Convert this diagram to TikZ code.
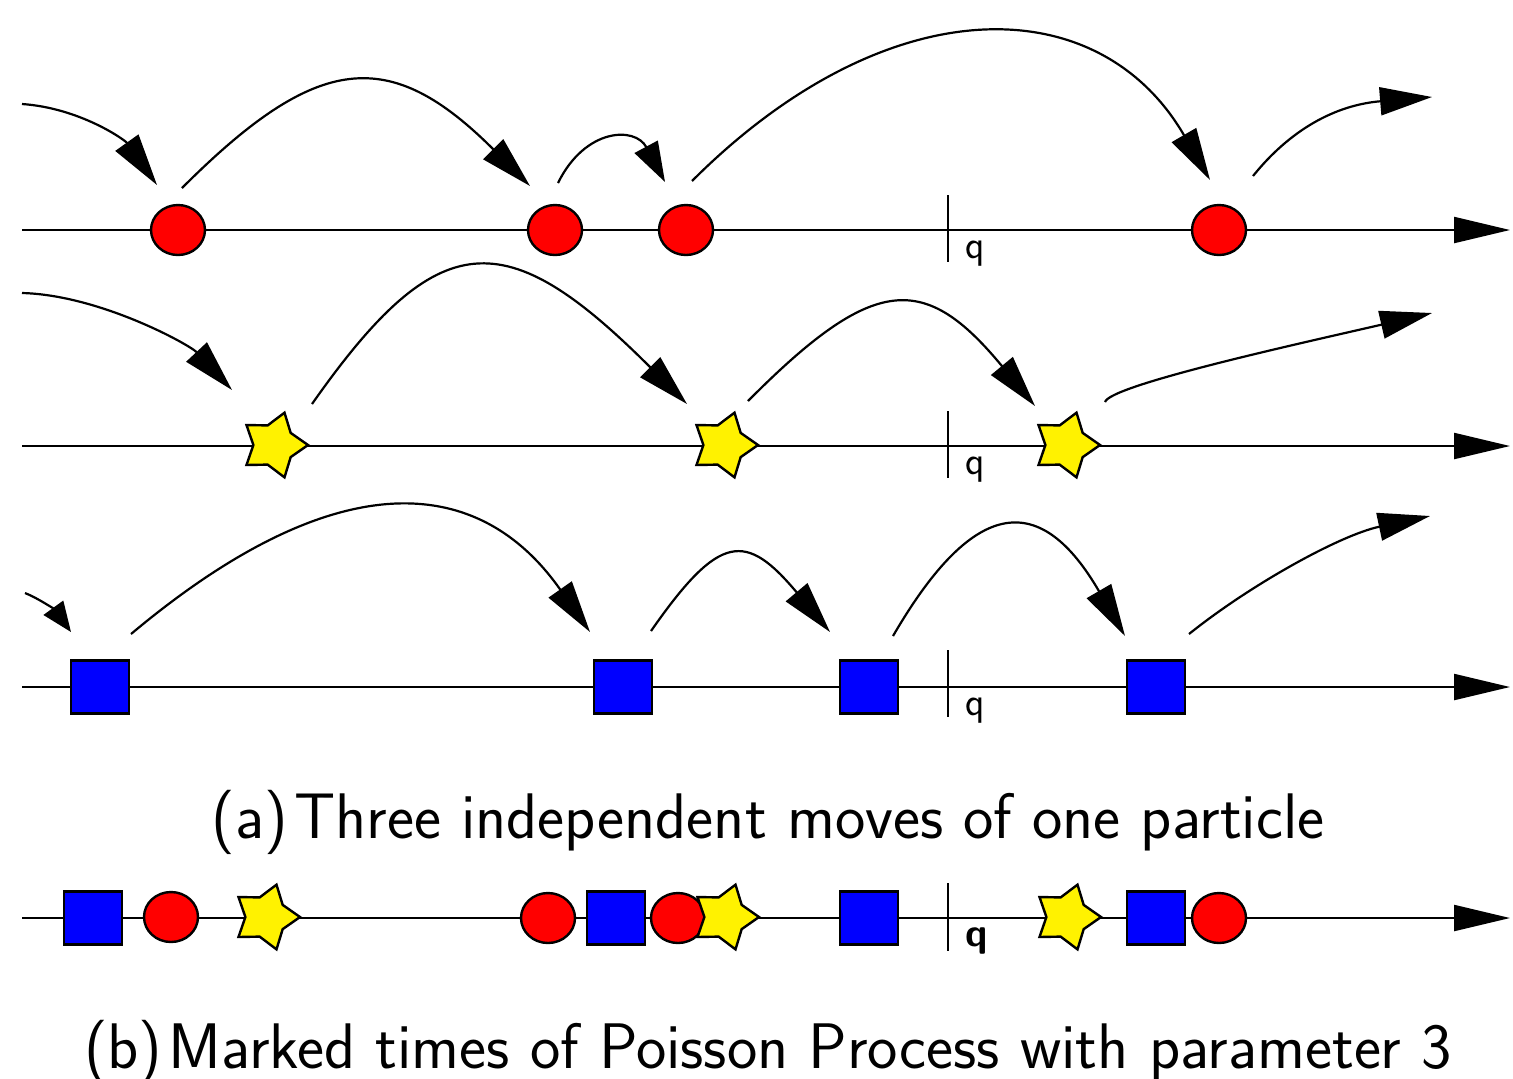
\documentclass[tikz,border=0pt]{standalone}
\usepackage{fontspec}
\usetikzlibrary{arrows.meta,shapes.geometric}
\begin{document}
\begin{tikzpicture}[x=0.5pt,y=-0.5pt,
  timeaxis/.style={line width=1.1pt,-{Triangle[length=28pt,width=13pt]}},
  jump/.style={line width=1.1pt,-{Triangle[length=26pt,width=14pt]}},
  shortjump/.style={line width=1.1pt,-{Triangle[length=15pt,width=12pt]}},
  midjump/.style={line width=1.1pt,-{Triangle[length=20pt,width=13pt]}},
  redpt/.style={ellipse,draw,line width=1.2pt,fill=red,minimum width=27pt,minimum height=25pt,inner sep=0pt},
  bluept/.style={rectangle,draw,line width=1.2pt,fill=blue,minimum width=29pt,minimum height=26.5pt,inner sep=0pt},
  yelpt/.style={star,star points=5,star point ratio=1.65,draw,line width=1.2pt,fill=yellow,minimum size=34pt,inner sep=0pt,rotate=-18},
  qtick/.style={line width=1.1pt},
  qlab/.style={font=\sffamily\fontsize{20}{22}\selectfont,anchor=base west,inner sep=0pt},
  capt/.style={font=\sffamily\fontsize{32.2}{38}\selectfont,anchor=base,inner sep=0pt}]
\useasboundingbox (0,0) rectangle (1513,1078);

% ---------- line 1 : red circles ----------
\coordinate (a0) at (22,230); \coordinate (a1) at (1510,230);
\draw[timeaxis] (a0) -- (a1);
\coordinate (qa0) at (948,195); \coordinate (qa1) at (948,262);
\draw[qtick] (qa0) -- (qa1);
\node[qlab] (qa) at (965,258) {q};
\node[redpt] (r1) at (178,230) {};
\node[redpt] (r2) at (555,230) {};
\node[redpt] (r3) at (686,230) {};
\node[redpt] (r4) at (1219,230) {};
\coordinate (A1s) at (22,104);  \coordinate (A1e) at (157,185);
\coordinate (A2s) at (182,188); \coordinate (A2e) at (530,186);
\coordinate (A3s) at (558,183); \coordinate (A3e) at (665,182);
\coordinate (A4s) at (692,181); \coordinate (A4e) at (1210,180);
\coordinate (A5s) at (1253,176); \coordinate (A5e) at (1432,97);
\draw[jump] (A1s) .. controls (80,108) and (125,140) .. (A1e);
\draw[jump] (A2s) .. controls (318,52) and (390,46) .. (A2e);
\draw[midjump] (A3s) .. controls (585,128) and (635,126) .. (A3e);
\draw[jump] (A4s) .. controls (886,-13) and (1098,-13) .. (A4e);
\draw[jump] (A5s) .. controls (1290,130) and (1335,105) .. (A5e);

% ---------- line 2 : yellow stars ----------
\coordinate (b0) at (22,446); \coordinate (b1) at (1510,446);
\draw[timeaxis] (b0) -- (b1);
\coordinate (qb0) at (948,411); \coordinate (qb1) at (948,478);
\draw[qtick] (qb0) -- (qb1);
\node[qlab] (qb) at (965,474) {q};
\node[yelpt] (y1) at (274,445) {};
\node[yelpt] (y2) at (724,445) {};
\node[yelpt] (y3) at (1066,445) {};
\coordinate (B1s) at (22,293);  \coordinate (B1e) at (232,390);
\coordinate (B2s) at (312,404); \coordinate (B2e) at (687,404);
\coordinate (B3s) at (748,401); \coordinate (B3e) at (1035,406);
\coordinate (B4s) at (1105,402); \coordinate (B4e) at (1432,313);
\draw[jump] (B1s) .. controls (100,295) and (190,345) .. (B1e);
\draw[jump] (B2s) .. controls (439,223) and (506,223) .. (B2e);
\draw[jump] (B3s) .. controls (875,273) and (925,273) .. (B3e);
\draw[jump] (B4s) .. controls (1110,385) and (1302,343) .. (B4e);

% ---------- line 3 : blue squares ----------
\coordinate (c0) at (22,687); \coordinate (c1) at (1510,687);
\draw[timeaxis] (c0) -- (c1);
\coordinate (qc0) at (948,650); \coordinate (qc1) at (948,717);
\draw[qtick] (qc0) -- (qc1);
\node[qlab] (qc) at (965,715) {q};
\node[bluept] (s1) at (100,687) {};
\node[bluept] (s2) at (623,687) {};
\node[bluept] (s3) at (869,687) {};
\node[bluept] (s4) at (1156,687) {};
\coordinate (C1s) at (25,593);  \coordinate (C1e) at (71,632);
\coordinate (C2s) at (131,634); \coordinate (C2e) at (590,632);
\coordinate (C3s) at (651,631); \coordinate (C3e) at (830,632);
\coordinate (C4s) at (893,636); \coordinate (C4e) at (1125,636);
\coordinate (C5s) at (1189,634); \coordinate (C5e) at (1430,516);
\draw[shortjump] (C1s) .. controls (38,598) and (55,610) .. (C1e);
\draw[jump] (C2s) .. controls (329,468) and (475,468) .. (C2e);
\draw[jump] (C3s) .. controls (720,532) and (746,532) .. (C3e);
\draw[jump] (C4s) .. controls (976,493) and (1042,493) .. (C4e);
\draw[jump] (C5s) .. controls (1250,585) and (1340,535) .. (C5e);

\node[capt] (capa) at (768,838) {(a)\hspace{0.1em}Three independent moves of one particle};

% ---------- line 4 : superposition ----------
\coordinate (d0) at (22,918); \coordinate (d1) at (1510,918);
\draw[timeaxis] (d0) -- (d1);
\coordinate (qd0) at (948,883); \coordinate (qd1) at (948,951);
\draw[qtick] (qd0) -- (qd1);
\node[qlab,font=\sffamily\bfseries\fontsize{20}{22}\selectfont] (qd) at (965,946) {q};
\node[bluept] (m1) at (93,918) {};
\node[redpt] (m2) at (171,917) {};
\node[yelpt] (m3) at (266,917) {};
\node[redpt] (m4) at (548,918) {};
\node[bluept] (m5) at (616,918) {};
\node[redpt] (m6) at (678,918) {};
\node[yelpt] (m7) at (725,917) {};
\node[bluept] (m8) at (869,918) {};
\node[yelpt] (m9) at (1067,917) {};
\node[bluept] (m10) at (1156,918) {};
\node[redpt] (m11) at (1219,918) {};

\node[capt] (capb) at (768,1068) {(b)\hspace{0.1em}Marked times of Poisson Process with parameter 3};
\end{tikzpicture}
\end{document}
